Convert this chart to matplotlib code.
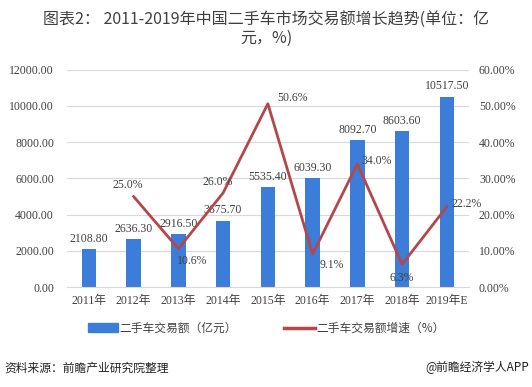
import numpy as np
import matplotlib.pyplot as plt

# 数据
years = ['2011年', '2012年', '2013年', '2014年', '2015年', '2016年', '2017年', '2018年', '2019年E']
amount = [2108.80, 2636.30, 2916.50, 3675.70, 5535.40, 6039.30, 8092.70, 8603.60, 10517.50]
growth = [None, 25.0, 10.6, 26.0, 50.6, 9.1, 34.0, 6.3, 22.2]
growth_offsets = [None, (-4, 8), (10, -9), (-4, 8), (18, 4), (14, -8), (14, 2), (0, -10), (14, 2)]

cn = ['Noto Sans CJK SC', 'DejaVu Sans']
num = ['Liberation Serif', 'Noto Sans CJK SC']
blue = '#3C7DD9'
red = '#B4474A'
txt = '#404040'

fig = plt.figure(figsize=(5.32, 3.87), dpi=100)
ax = fig.add_axes([0.125, 0.258, 0.757, 0.562])
ax2 = ax.twinx()

x = np.arange(len(years))
ax.bar(x, amount, width=0.32, color=blue, zorder=2)
for xi, v in zip(x, amount):
    ax.annotate(f'{v:.2f}', (xi, v), xytext=(0, 3), textcoords='offset points',
                ha='center', va='bottom', fontsize=8.5, family=num, color=txt)

ax.set_ylim(0, 12000)
ax.set_yticks(np.arange(0, 12001, 2000))
ax.set_yticklabels([f'{v:.2f}' for v in np.arange(0, 12001, 2000)], family=num, fontsize=8.5, color=txt)
ax.set_xlim(-0.5, len(years) - 0.5)
ax.set_xticks(x)
ax.set_xticklabels(years, family=num, fontsize=8.5, color=txt)
ax.grid(axis='y', color='#D9D9D9', linewidth=0.8, zorder=0)
ax.tick_params(axis='y', length=0, pad=9)
ax.tick_params(axis='x', length=0, pad=6)

gx = [xi for xi, g in zip(x, growth) if g is not None]
gy = [g for g in growth if g is not None]
ax2.plot(gx, gy, color=red, linewidth=2, zorder=3)
for xi, g, off in zip(x, growth, growth_offsets):
    if g is None:
        continue
    ax2.annotate(f'{g:.1f}%', (xi, g), xytext=off, textcoords='offset points',
                 ha='center', va='center', fontsize=8.5, family=num, color=txt)
ax2.set_ylim(0, 60)
ax2.set_yticks(np.arange(0, 61, 10))
ax2.set_yticklabels([f'{v:.2f}%' for v in np.arange(0, 61, 10)], family=num, fontsize=8.5, color=txt)
ax2.tick_params(length=0, pad=7)

for a in (ax, ax2):
    for s in a.spines.values():
        s.set_visible(False)
ax.spines['bottom'].set_visible(True)
ax.spines['bottom'].set_color('#D9D9D9')

fig.text(0.5, 0.925, '图表2： 2011-2019年中国二手车市场交易额增长趋势(单位：亿\n元，%)',
         ha='center', va='center', fontsize=11.5, family=cn, color='#404040', linespacing=1.05)

h1 = plt.Rectangle((0, 0), 1, 1, color=blue)
h2 = plt.Line2D([0], [0], color=red, linewidth=2.5)
fig.legend([h1, h2], ['二手车交易额（亿元）', '二手车交易额增速（%）'],
           loc='center', bbox_to_anchor=(0.5, 0.152), ncol=2, frameon=False,
           prop={'family': cn, 'size': 8.5}, handlelength=2.6, handletextpad=0.1,
           columnspacing=4, labelcolor=txt)

fig.text(0.008, 0.05, '资料来源：前瞻产业研究院整理', ha='left', va='center',
         fontsize=8.5, family=cn, style='italic', color='#222222')
fig.text(0.995, 0.05, '@前瞻经济学人APP', ha='right', va='center',
         fontsize=8.5, family=cn, color='#222222')

fig.savefig('out.png', dpi=100)
